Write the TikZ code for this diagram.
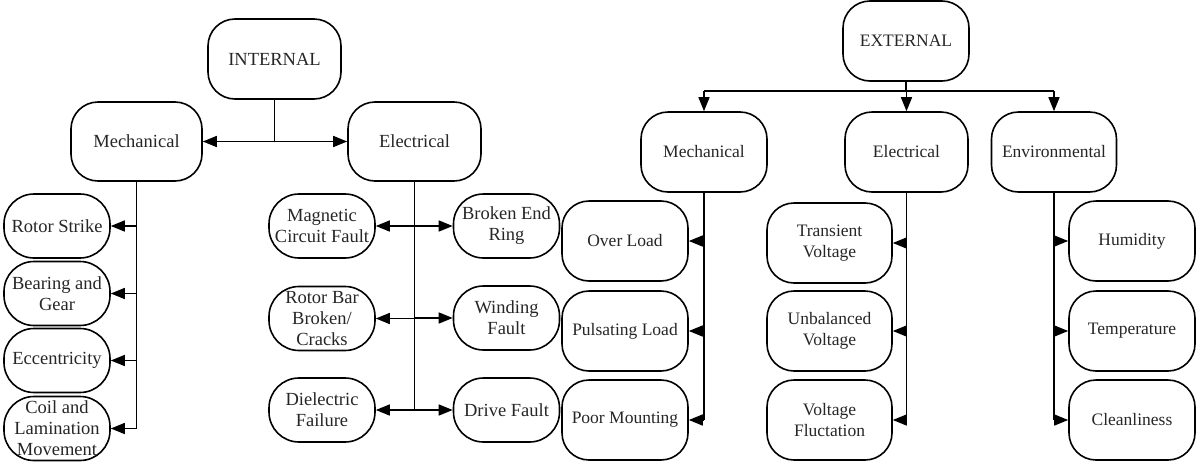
\documentclass[tikz,border=0pt]{standalone}
\usepackage{fontspec}
\setmainfont{Liberation Serif}
\newfontfamily\tnr{Liberation Serif}
\usetikzlibrary{arrows.meta}
\tikzset{
  box/.style={draw, line width=1.6pt, rounded corners=#1, align=center, inner sep=0pt, text=black!85},
  bigI/.style={box=27pt, font=\tnr\fontsize{18.5}{21}\selectfont},
  smallI/.style={box=30pt, minimum width=106pt, minimum height=64pt, font=\tnr\fontsize{18.5}{21}\selectfont},
  bigE/.style={box=27pt, minimum width=126pt, minimum height=80pt, font=\tnr\fontsize{17.5}{21.5}\selectfont},
  line/.style={line width=1.5pt},
  arr/.style={line width=1.5pt, -{Triangle[length=14pt,width=11pt]}},
}
\begin{document}
\begin{tikzpicture}[x=1pt,y=-1pt]
\useasboundingbox (0,0) rectangle (1203,469);
% INTERNAL
\node[bigI, minimum width=133pt, minimum height=80pt] (int) at (274.5,59) {INTERNAL};
\node[bigI, minimum width=131pt, minimum height=79pt] (imech) at (136.5,141.5) {Mechanical};
\node[bigI, minimum width=133pt, minimum height=79pt] (ielec) at (414.5,141.5) {Electrical};
\node[smallI] (rs) at (57,226) {Rotor Strike};
\node[smallI] (bg) at (57,293.5) {Bearing and\\Gear};
\node[smallI] (ecc) at (57,360.5) {Eccentricity};
\node[smallI] (coil) at (57,428.5) {Coil and\\Lamination\\Movement};
\node[smallI] (mag) at (322,226) {Magnetic\\Circuit Fault};
\node[smallI] (rbar) at (322,318.5) {Rotor Bar\\Broken/\\Cracks};
\node[smallI] (diel) at (322,410) {Dielectric\\Failure};
\node[smallI] (ber) at (506.5,226) {Broken End\\Ring};
\node[smallI] (wind) at (506.5,318) {Winding\\Fault};
\node[smallI] (drive) at (506.5,410) {Drive Fault};
% EXTERNAL
\node[bigE] (ext) at (906,41) {EXTERNAL};
\node[bigE] (emech) at (704,152) {Mechanical};
\node[bigE, minimum width=123pt] (eelec) at (906.5,152) {Electrical};
\node[bigE, minimum width=125pt] (env) at (1054,152) {Environmental};
\node[bigE] (ol) at (625,241) {Over Load};
\node[bigE] (pl) at (625,331) {Pulsating Load};
\node[bigE] (pm) at (625,420) {Poor Mounting};
\node[bigE, minimum width=125pt] (tv) at (829.5,243) {Transient\\Voltage};
\node[bigE, minimum width=125pt] (uv) at (829.5,331) {Unbalanced\\Voltage};
\node[bigE, minimum width=125pt] (vf) at (829.5,420) {Voltage\\Fluctation};
\node[bigE] (hum) at (1132,241) {Humidity};
\node[bigE] (temp) at (1132,331) {Temperature};
\node[bigE] (clean) at (1132,420) {Cleanliness};
% internal connectors
\coordinate (ij) at (int.south |- imech.east);
\draw[line] (int.south) -- (ij);
\draw[arr] (ij) -- (imech.east);
\draw[arr] (ij) -- (ielec.west);
\draw[line] (imech.south) -- (imech.south |- coil.east);
\foreach \n in {rs,bg,ecc,coil} \draw[arr] (imech.south |- \n.east) -- (\n.east);
\draw[line] (ielec.south) -- (ielec.south |- diel.east);
\foreach \n in {mag,rbar,diel} \draw[arr] (ielec.south |- \n.east) -- (\n.east);
\foreach \n in {ber,wind,drive} \draw[arr] (ielec.south |- \n.west) -- (\n.west);
% external connectors
\coordinate (ej) at (906,91);
\draw[line] (ext.south) -- (ej);
\draw[line] (emech.north |- ej) -- (env.north |- ej);
\draw[arr] (emech.north |- ej) -- (emech.north);
\draw[arr] (eelec.north |- ej) -- (eelec.north);
\draw[arr] (env.north |- ej) -- (env.north);
\draw[line] (emech.south) -- (emech.south |- pm.east);
\foreach \n in {ol,pl,pm} \draw[arr] (emech.south |- \n.east) -- (\n.east);
\draw[line] (eelec.south) -- (eelec.south |- vf.east);
\foreach \n in {tv,uv,vf} \draw[arr] (eelec.south |- \n.east) -- (\n.east);
\draw[line] (env.south) -- (env.south |- clean.west);
\foreach \n in {hum,temp,clean} \draw[arr] (env.south |- \n.west) -- (\n.west);
\end{tikzpicture}
\end{document}
